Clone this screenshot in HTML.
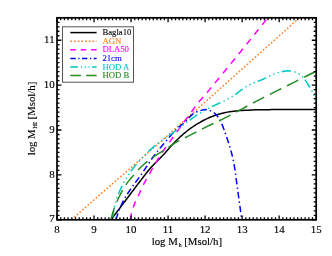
<!DOCTYPE html>
<html><head><meta charset="utf-8"><title>plot</title>
<style>
html,body{margin:0;padding:0;background:#fff;}
body{width:332px;height:256px;overflow:hidden;position:relative;font-family:"Liberation Serif",serif;}
</style></head><body>
<svg width="332" height="256" viewBox="0 0 332 256" style="position:absolute;left:0;top:0;will-change:transform">
<defs><clipPath id="c"><rect x="57.0" y="17.8" width="259.2" height="202.0"/></clipPath></defs>
<g clip-path="url(#c)" fill="none" stroke-linejoin="round">
<path d="M111.00,219.70 L112.28,218.02 L113.55,216.34 L114.82,214.67 L116.10,212.99 L117.37,211.31 L118.64,209.63 L119.92,207.95 L121.19,206.27 L122.46,204.59 L123.73,202.91 L125.00,201.22 L126.27,199.54 L127.54,197.86 L128.81,196.18 L130.08,194.50 L131.34,192.81 L132.60,191.12 L133.86,189.43 L135.12,187.74 L136.39,186.06 L137.65,184.37 L138.93,182.70 L140.21,181.03 L141.50,179.35 L142.78,177.68 L144.07,176.01 L145.37,174.35 L146.68,172.70 L148.01,171.06 L149.36,169.45 L150.74,167.86 L152.15,166.30 L153.58,164.76 L155.04,163.24 L156.51,161.73 L158.00,160.23 L159.48,158.73 L160.96,157.23 L162.43,155.72 L163.89,154.19 L165.32,152.65 L166.73,151.08 L168.11,149.48 L169.49,147.88 L170.87,146.28 L172.26,144.70 L173.69,143.15 L175.15,141.65 L176.65,140.17 L178.17,138.71 L179.72,137.27 L181.29,135.86 L182.88,134.46 L184.49,133.10 L186.13,131.77 L187.78,130.49 L189.46,129.22 L191.16,127.98 L192.90,126.76 L194.65,125.58 L196.43,124.43 L198.23,123.33 L200.04,122.28 L201.88,121.26 L203.74,120.26 L205.63,119.30 L207.54,118.38 L209.46,117.52 L211.41,116.71 L213.37,115.98 L215.35,115.28 L217.36,114.60 L219.39,113.98 L221.42,113.41 L223.47,112.91 L225.53,112.50 L227.59,112.13 L229.67,111.79 L231.76,111.47 L233.86,111.19 L235.96,110.95 L238.06,110.74 L240.16,110.59 L242.25,110.46 L244.36,110.34 L246.46,110.23 L248.56,110.13 L250.67,110.03 L252.78,109.95 L254.89,109.87 L257.00,109.81 L259.10,109.76 L261.21,109.72 L263.32,109.69 L265.43,109.67 L267.53,109.65 L269.64,109.63 L271.74,109.61 L273.85,109.59 L275.96,109.57 L278.06,109.55 L280.17,109.54 L282.28,109.52 L284.39,109.51 L286.49,109.49 L288.60,109.48 L290.71,109.47 L292.81,109.46 L294.92,109.45 L297.03,109.44 L299.14,109.43 L301.24,109.42 L303.35,109.42 L305.46,109.41 L307.57,109.41 L309.68,109.40 L311.78,109.40 L313.89,109.40 L316.00,109.40" stroke="#000000" stroke-width="1.5"/>
<path d="M71.50,219.80 L73.42,218.09 L75.33,216.39 L77.25,214.68 L79.17,212.98 L81.09,211.28 L83.01,209.57 L84.93,207.87 L86.85,206.17 L88.77,204.47 L90.69,202.77 L92.62,201.08 L94.54,199.38 L96.47,197.69 L98.40,195.99 L100.33,194.30 L102.26,192.61 L104.19,190.93 L106.12,189.24 L108.06,187.55 L110.00,185.87 L111.93,184.19 L113.87,182.50 L115.81,180.82 L117.74,179.14 L119.68,177.46 L121.62,175.78 L123.56,174.10 L125.50,172.42 L127.44,170.74 L129.38,169.06 L131.31,167.37 L133.25,165.69 L135.19,164.01 L137.12,162.33 L139.06,160.64 L140.99,158.95 L142.92,157.27 L144.86,155.58 L146.79,153.89 L148.71,152.19 L150.64,150.50 L152.57,148.80 L154.49,147.11 L156.41,145.41 L158.34,143.71 L160.26,142.01 L162.18,140.31 L164.10,138.61 L166.02,136.91 L167.94,135.21 L169.86,133.50 L171.78,131.80 L173.69,130.09 L175.61,128.39 L177.53,126.68 L179.44,124.98 L181.36,123.27 L183.28,121.56 L185.19,119.85 L187.10,118.15 L189.02,116.44 L190.93,114.73 L192.85,113.02 L194.76,111.31 L196.67,109.60 L198.59,107.89 L200.50,106.18 L202.41,104.47 L204.33,102.76 L206.24,101.05 L208.15,99.34 L210.07,97.63 L211.98,95.92 L213.89,94.22 L215.81,92.51 L217.72,90.80 L219.63,89.09 L221.55,87.38 L223.46,85.67 L225.38,83.96 L227.29,82.26 L229.21,80.55 L231.12,78.84 L233.04,77.13 L234.95,75.42 L236.87,73.72 L238.78,72.01 L240.69,70.30 L242.61,68.59 L244.52,66.88 L246.44,65.17 L248.35,63.47 L250.26,61.76 L252.18,60.05 L254.09,58.34 L256.01,56.63 L257.92,54.92 L259.83,53.21 L261.75,51.50 L263.66,49.79 L265.57,48.08 L267.49,46.37 L269.40,44.66 L271.31,42.96 L273.23,41.25 L275.14,39.54 L277.05,37.83 L278.96,36.12 L280.88,34.41 L282.79,32.70 L284.70,30.99 L286.61,29.27 L288.53,27.56 L290.44,25.85 L292.35,24.14 L294.26,22.43 L296.18,20.72 L298.09,19.01 L300.00,17.30" stroke="#ff8428" stroke-width="1.5" stroke-dasharray="1.7 1.9"/>
<path d="M130.30,219.70 L130.63,217.62 L131.03,215.56 L131.50,213.52 L132.02,211.51 L132.60,209.52 L133.23,207.55 L133.88,205.60 L134.57,203.67 L135.29,201.76 L136.17,199.90 L137.16,198.06 L138.14,196.23 L139.04,194.36 L139.86,192.46 L140.66,190.54 L141.47,188.64 L142.35,186.77 L143.28,184.92 L144.24,183.09 L145.22,181.27 L146.23,179.46 L147.25,177.65 L148.28,175.85 L149.32,174.06 L150.35,172.26 L151.38,170.46 L152.41,168.67 L153.44,166.87 L154.48,165.08 L155.53,163.29 L156.59,161.51 L157.65,159.73 L158.73,157.96 L159.82,156.20 L160.92,154.45 L162.04,152.71 L163.18,150.98 L164.34,149.27 L165.53,147.58 L166.73,145.90 L167.95,144.22 L169.18,142.55 L170.41,140.88 L171.63,139.20 L172.84,137.53 L174.05,135.85 L175.27,134.17 L176.48,132.49 L177.70,130.82 L178.92,129.15 L180.14,127.47 L181.36,125.80 L182.58,124.13 L183.80,122.45 L185.02,120.78 L186.24,119.11 L187.46,117.44 L188.68,115.76 L189.91,114.09 L191.13,112.42 L192.34,110.74 L193.54,109.05 L194.74,107.35 L195.94,105.67 L197.18,104.01 L198.45,102.38 L199.77,100.79 L201.16,99.26 L202.56,97.73 L203.94,96.18 L205.29,94.61 L206.63,93.03 L207.96,91.45 L209.29,89.86 L210.61,88.26 L211.92,86.66 L213.24,85.06 L214.55,83.46 L215.86,81.86 L217.18,80.26 L218.50,78.66 L219.81,77.06 L221.13,75.46 L222.44,73.86 L223.75,72.26 L225.07,70.66 L226.38,69.06 L227.69,67.46 L229.00,65.86 L230.31,64.25 L231.62,62.65 L232.93,61.05 L234.24,59.44 L235.55,57.84 L236.86,56.23 L238.17,54.63 L239.47,53.02 L240.78,51.41 L242.08,49.80 L243.39,48.20 L244.69,46.59 L245.99,44.98 L247.29,43.37 L248.60,41.76 L249.90,40.14 L251.20,38.53 L252.49,36.92 L253.79,35.30 L255.09,33.69 L256.38,32.07 L257.68,30.46 L258.97,28.84 L260.26,27.22 L261.56,25.61 L262.85,23.99 L264.14,22.37 L265.43,20.74 L266.71,19.12 L268.00,17.50" stroke="#ff00ff" stroke-width="1.5" stroke-dasharray="6.60 5.88"/>
<path d="M116.00,219.70 L116.62,217.52 L117.30,215.36 L118.03,213.23 L118.80,211.12 L119.62,209.04 L120.48,206.97 L121.38,204.94 L122.30,202.92 L123.28,200.93 L124.34,198.97 L125.48,197.03 L126.66,195.12 L127.88,193.22 L129.12,191.34 L130.35,189.47 L131.61,187.63 L132.92,185.81 L134.25,184.01 L135.59,182.21 L136.94,180.42 L138.28,178.62 L139.60,176.81 L140.89,174.98 L142.17,173.14 L143.43,171.28 L144.68,169.42 L145.92,167.56 L147.17,165.69 L148.42,163.83 L149.67,161.97 L150.94,160.13 L152.23,158.30 L153.53,156.48 L154.86,154.68 L156.22,152.91 L157.60,151.15 L159.01,149.41 L160.43,147.67 L161.86,145.95 L163.31,144.23 L164.76,142.52 L166.21,140.82 L167.66,139.11 L169.10,137.39 L170.55,135.67 L172.01,133.97 L173.49,132.30 L175.03,130.67 L176.63,129.12 L178.30,127.63 L180.01,126.17 L181.74,124.73 L183.45,123.28 L185.14,121.79 L186.76,120.26 L188.27,118.62 L189.71,116.89 L191.33,115.34 L193.07,113.85 L194.92,112.60 L196.90,111.70 L199.05,110.99 L201.24,110.40 L203.43,109.81 L205.62,109.50 L207.81,109.84 L209.98,110.62 L212.02,111.56 L213.92,112.72 L215.68,114.19 L217.18,115.80 L218.49,117.64 L219.67,119.56 L220.72,121.53 L221.67,123.57 L222.53,125.63 L223.32,127.73 L224.07,129.84 L224.81,131.96 L225.55,134.07 L226.30,136.19 L227.04,138.30 L227.77,140.42 L228.48,142.55 L229.16,144.68 L229.80,146.82 L230.42,148.98 L231.03,151.13 L231.62,153.30 L232.18,155.47 L232.72,157.65 L233.21,159.83 L233.66,162.02 L234.06,164.22 L234.43,166.42 L234.78,168.63 L235.10,170.85 L235.41,173.07 L235.71,175.29 L236.00,177.52 L236.29,179.74 L236.59,181.97 L236.89,184.19 L237.20,186.40 L237.51,188.62 L237.81,190.84 L238.12,193.06 L238.43,195.28 L238.73,197.50 L239.04,199.72 L239.34,201.94 L239.64,204.16 L239.94,206.38 L240.24,208.60 L240.53,210.82 L240.83,213.04 L241.12,215.26 L241.41,217.48 L241.70,219.70" stroke="#0000ff" stroke-width="1.5" stroke-dasharray="6.48 3.12 1.44 3.00"/>
<path d="M112.30,219.70 L112.62,217.33 L112.99,214.97 L113.39,212.61 L113.83,210.27 L114.30,207.91 L114.81,205.57 L115.37,203.24 L115.98,200.94 L116.66,198.67 L117.43,196.42 L118.29,194.18 L119.22,191.97 L120.21,189.77 L121.23,187.60 L122.27,185.46 L123.35,183.34 L124.49,181.24 L125.70,179.17 L126.95,177.12 L128.25,175.11 L129.57,173.12 L130.94,171.17 L132.36,169.25 L133.84,167.37 L135.36,165.52 L136.91,163.69 L138.47,161.89 L140.06,160.11 L141.68,158.35 L143.32,156.60 L144.99,154.89 L146.68,153.19 L148.39,151.53 L150.12,149.89 L151.89,148.28 L153.69,146.70 L155.53,145.17 L157.40,143.69 L159.31,142.27 L161.27,140.89 L163.23,139.53 L165.19,138.16 L167.15,136.79 L169.12,135.43 L171.08,134.08 L173.04,132.70 L174.98,131.31 L176.90,129.89 L178.80,128.44 L180.69,126.98 L182.58,125.52 L184.48,124.06 L186.39,122.63 L188.31,121.21 L190.24,119.80 L192.18,118.39 L194.13,117.01 L196.10,115.67 L198.10,114.36 L200.12,113.09 L202.17,111.85 L204.23,110.64 L206.32,109.47 L208.41,108.33 L210.54,107.25 L212.69,106.21 L214.85,105.19 L217.03,104.20 L219.20,103.20 L221.37,102.19 L223.52,101.15 L225.65,100.06 L227.77,98.95 L229.87,97.81 L231.94,96.63 L233.98,95.39 L235.95,94.04 L237.89,92.61 L239.81,91.15 L241.73,89.69 L243.66,88.27 L245.63,86.93 L247.65,85.71 L249.74,84.63 L251.90,83.65 L254.11,82.75 L256.35,81.88 L258.60,81.02 L260.83,80.14 L263.03,79.20 L265.19,78.17 L267.34,77.10 L269.49,76.06 L271.67,75.09 L273.89,74.21 L276.13,73.35 L278.41,72.61 L280.71,72.04 L283.06,71.52 L285.44,71.08 L287.81,70.83 L290.17,70.88 L292.56,71.33 L294.90,72.03 L297.10,72.84 L299.16,73.97 L301.10,75.49 L302.84,77.14 L304.35,78.92 L305.73,80.89 L307.02,82.95 L308.31,84.98 L309.61,86.99 L310.89,89.03 L312.07,91.11 L313.11,93.24 L314.01,95.44 L314.81,97.69 L315.50,100.00" stroke="#00c8c8" stroke-width="1.5" stroke-dasharray="9.24 3.48 1.32 3.24 1.32 3.24 1.32 3.00"/>
<path d="M111.00,219.70 L111.49,217.55 L112.02,215.42 L112.61,213.30 L113.25,211.21 L113.95,209.14 L114.70,207.07 L115.49,205.01 L116.33,202.97 L117.21,200.94 L118.11,198.94 L119.05,196.95 L120.01,194.99 L121.00,193.04 L122.05,191.10 L123.15,189.19 L124.29,187.30 L125.48,185.44 L126.71,183.62 L127.98,181.85 L129.34,180.14 L130.77,178.48 L132.24,176.83 L133.72,175.20 L135.18,173.55 L136.59,171.86 L138.01,170.18 L139.47,168.55 L141.01,166.99 L142.60,165.48 L144.24,164.00 L145.91,162.56 L147.61,161.16 L149.34,159.80 L151.09,158.50 L152.88,157.25 L154.71,156.04 L156.56,154.86 L158.43,153.70 L160.31,152.55 L162.19,151.39 L164.05,150.22 L165.89,149.01 L167.71,147.78 L169.52,146.54 L171.35,145.30 L173.19,144.11 L175.05,142.97 L176.96,141.89 L178.89,140.85 L180.85,139.85 L182.81,138.86 L184.78,137.88 L186.75,136.89 L188.70,135.88 L190.65,134.87 L192.60,133.87 L194.55,132.86 L196.51,131.86 L198.46,130.85 L200.42,129.86 L202.38,128.86 L204.34,127.88 L206.30,126.90 L208.27,125.92 L210.25,124.97 L212.23,124.02 L214.22,123.08 L216.21,122.15 L218.19,121.21 L220.18,120.26 L222.15,119.31 L224.12,118.34 L226.08,117.35 L228.04,116.35 L229.99,115.34 L231.93,114.32 L233.87,113.29 L235.81,112.25 L237.74,111.21 L239.67,110.16 L241.60,109.11 L243.53,108.06 L245.46,107.01 L247.39,105.96 L249.33,104.92 L251.26,103.88 L253.20,102.85 L255.14,101.83 L257.09,100.81 L259.04,99.81 L261.00,98.81 L262.96,97.82 L264.93,96.84 L266.89,95.86 L268.85,94.87 L270.82,93.89 L272.78,92.90 L274.74,91.92 L276.71,90.94 L278.67,89.95 L280.63,88.97 L282.60,87.99 L284.56,87.00 L286.53,86.02 L288.49,85.04 L290.46,84.06 L292.42,83.08 L294.39,82.10 L296.35,81.12 L298.32,80.13 L300.28,79.15 L302.25,78.17 L304.21,77.19 L306.18,76.21 L308.14,75.23 L310.11,74.25 L312.07,73.26 L314.04,72.28 L316.00,71.30" stroke="#228b22" stroke-width="1.5" stroke-dasharray="12.72 6.36"/>
</g>
<rect x="57.0" y="17.8" width="259.2" height="202.0" fill="none" stroke="#000" stroke-width="1.7"/>
<path d="M57.00,219.8v-4.4M57.00,17.8v4.4M60.70,219.8v-2.5M60.70,17.8v2.5M64.41,219.8v-2.5M64.41,17.8v2.5M68.11,219.8v-2.5M68.11,17.8v2.5M71.81,219.8v-2.5M71.81,17.8v2.5M75.51,219.8v-2.5M75.51,17.8v2.5M79.22,219.8v-2.5M79.22,17.8v2.5M82.92,219.8v-2.5M82.92,17.8v2.5M86.62,219.8v-2.5M86.62,17.8v2.5M90.33,219.8v-2.5M90.33,17.8v2.5M94.03,219.8v-4.4M94.03,17.8v4.4M97.73,219.8v-2.5M97.73,17.8v2.5M101.43,219.8v-2.5M101.43,17.8v2.5M105.14,219.8v-2.5M105.14,17.8v2.5M108.84,219.8v-2.5M108.84,17.8v2.5M112.54,219.8v-2.5M112.54,17.8v2.5M116.25,219.8v-2.5M116.25,17.8v2.5M119.95,219.8v-2.5M119.95,17.8v2.5M123.65,219.8v-2.5M123.65,17.8v2.5M127.35,219.8v-2.5M127.35,17.8v2.5M131.06,219.8v-4.4M131.06,17.8v4.4M134.76,219.8v-2.5M134.76,17.8v2.5M138.46,219.8v-2.5M138.46,17.8v2.5M142.17,219.8v-2.5M142.17,17.8v2.5M145.87,219.8v-2.5M145.87,17.8v2.5M149.57,219.8v-2.5M149.57,17.8v2.5M153.27,219.8v-2.5M153.27,17.8v2.5M156.98,219.8v-2.5M156.98,17.8v2.5M160.68,219.8v-2.5M160.68,17.8v2.5M164.38,219.8v-2.5M164.38,17.8v2.5M168.09,219.8v-4.4M168.09,17.8v4.4M171.79,219.8v-2.5M171.79,17.8v2.5M175.49,219.8v-2.5M175.49,17.8v2.5M179.19,219.8v-2.5M179.19,17.8v2.5M182.90,219.8v-2.5M182.90,17.8v2.5M186.60,219.8v-2.5M186.60,17.8v2.5M190.30,219.8v-2.5M190.30,17.8v2.5M194.01,219.8v-2.5M194.01,17.8v2.5M197.71,219.8v-2.5M197.71,17.8v2.5M201.41,219.8v-2.5M201.41,17.8v2.5M205.11,219.8v-4.4M205.11,17.8v4.4M208.82,219.8v-2.5M208.82,17.8v2.5M212.52,219.8v-2.5M212.52,17.8v2.5M216.22,219.8v-2.5M216.22,17.8v2.5M219.93,219.8v-2.5M219.93,17.8v2.5M223.63,219.8v-2.5M223.63,17.8v2.5M227.33,219.8v-2.5M227.33,17.8v2.5M231.03,219.8v-2.5M231.03,17.8v2.5M234.74,219.8v-2.5M234.74,17.8v2.5M238.44,219.8v-2.5M238.44,17.8v2.5M242.14,219.8v-4.4M242.14,17.8v4.4M245.85,219.8v-2.5M245.85,17.8v2.5M249.55,219.8v-2.5M249.55,17.8v2.5M253.25,219.8v-2.5M253.25,17.8v2.5M256.95,219.8v-2.5M256.95,17.8v2.5M260.66,219.8v-2.5M260.66,17.8v2.5M264.36,219.8v-2.5M264.36,17.8v2.5M268.06,219.8v-2.5M268.06,17.8v2.5M271.77,219.8v-2.5M271.77,17.8v2.5M275.47,219.8v-2.5M275.47,17.8v2.5M279.17,219.8v-4.4M279.17,17.8v4.4M282.87,219.8v-2.5M282.87,17.8v2.5M286.58,219.8v-2.5M286.58,17.8v2.5M290.28,219.8v-2.5M290.28,17.8v2.5M293.98,219.8v-2.5M293.98,17.8v2.5M297.69,219.8v-2.5M297.69,17.8v2.5M301.39,219.8v-2.5M301.39,17.8v2.5M305.09,219.8v-2.5M305.09,17.8v2.5M308.79,219.8v-2.5M308.79,17.8v2.5M312.50,219.8v-2.5M312.50,17.8v2.5M316.20,219.8v-4.4M316.20,17.8v4.4M57.0,219.80h4.4M316.2,219.80h-4.4M57.0,215.31h2.5M316.2,215.31h-2.5M57.0,210.82h2.5M316.2,210.82h-2.5M57.0,206.33h2.5M316.2,206.33h-2.5M57.0,201.84h2.5M316.2,201.84h-2.5M57.0,197.36h2.5M316.2,197.36h-2.5M57.0,192.87h2.5M316.2,192.87h-2.5M57.0,188.38h2.5M316.2,188.38h-2.5M57.0,183.89h2.5M316.2,183.89h-2.5M57.0,179.40h2.5M316.2,179.40h-2.5M57.0,174.91h4.4M316.2,174.91h-4.4M57.0,170.42h2.5M316.2,170.42h-2.5M57.0,165.93h2.5M316.2,165.93h-2.5M57.0,161.44h2.5M316.2,161.44h-2.5M57.0,156.96h2.5M316.2,156.96h-2.5M57.0,152.47h2.5M316.2,152.47h-2.5M57.0,147.98h2.5M316.2,147.98h-2.5M57.0,143.49h2.5M316.2,143.49h-2.5M57.0,139.00h2.5M316.2,139.00h-2.5M57.0,134.51h2.5M316.2,134.51h-2.5M57.0,130.02h4.4M316.2,130.02h-4.4M57.0,125.53h2.5M316.2,125.53h-2.5M57.0,121.04h2.5M316.2,121.04h-2.5M57.0,116.56h2.5M316.2,116.56h-2.5M57.0,112.07h2.5M316.2,112.07h-2.5M57.0,107.58h2.5M316.2,107.58h-2.5M57.0,103.09h2.5M316.2,103.09h-2.5M57.0,98.60h2.5M316.2,98.60h-2.5M57.0,94.11h2.5M316.2,94.11h-2.5M57.0,89.62h2.5M316.2,89.62h-2.5M57.0,85.13h4.4M316.2,85.13h-4.4M57.0,80.64h2.5M316.2,80.64h-2.5M57.0,76.16h2.5M316.2,76.16h-2.5M57.0,71.67h2.5M316.2,71.67h-2.5M57.0,67.18h2.5M316.2,67.18h-2.5M57.0,62.69h2.5M316.2,62.69h-2.5M57.0,58.20h2.5M316.2,58.20h-2.5M57.0,53.71h2.5M316.2,53.71h-2.5M57.0,49.22h2.5M316.2,49.22h-2.5M57.0,44.73h2.5M316.2,44.73h-2.5M57.0,40.24h4.4M316.2,40.24h-4.4M57.0,35.76h2.5M316.2,35.76h-2.5M57.0,31.27h2.5M316.2,31.27h-2.5M57.0,26.78h2.5M316.2,26.78h-2.5M57.0,22.29h2.5M316.2,22.29h-2.5M57.0,17.80h2.5M316.2,17.80h-2.5" stroke="#000" stroke-width="1.3" fill="none"/>
<g font-family="Liberation Serif, serif" font-size="10.9" fill="#000" stroke="#000" stroke-width="0.15">
<text x="57.00" y="233.2" text-anchor="middle">8</text>
<text x="94.03" y="233.2" text-anchor="middle">9</text>
<text x="131.06" y="233.2" text-anchor="middle">10</text>
<text x="168.09" y="233.2" text-anchor="middle">11</text>
<text x="205.11" y="233.2" text-anchor="middle">12</text>
<text x="242.14" y="233.2" text-anchor="middle">13</text>
<text x="279.17" y="233.2" text-anchor="middle">14</text>
<text x="316.20" y="233.2" text-anchor="middle">15</text>
<text x="54.6" y="221.90" text-anchor="end">7</text>
<text x="54.6" y="177.71" text-anchor="end">8</text>
<text x="54.6" y="132.82" text-anchor="end">9</text>
<text x="54.6" y="87.93" text-anchor="end">10</text>
<text x="54.6" y="43.04" text-anchor="end">11</text>
<text x="186.9" y="244.6" text-anchor="middle" font-size="10.8" textLength="70.5" lengthAdjust="spacing">log M<tspan font-size="5.6" dy="2.3" dx="0.8">h</tspan><tspan dy="-2.3"> [Msol/h]</tspan></text>
<text transform="translate(34.8,118.5) rotate(-90)" text-anchor="middle" font-size="10.8" textLength="73.7" lengthAdjust="spacing">log M<tspan font-size="6.4" dy="2.3" dx="0.5">HI</tspan><tspan dy="-2.3"> [Msol/h]</tspan></text>
</g>
<rect x="62.5" y="26.8" width="71" height="55.4" fill="#fff" stroke="#555" stroke-width="1"/>
<g font-family="Liberation Serif, serif" font-size="8.7">
<path d="M70.3,32.6H96.6" stroke="#000000" stroke-width="1.5" fill="none"/>
<text x="102.4" y="35.10" fill="#000000" stroke="#000000" stroke-width="0.12">Bagla10</text>
<path d="M70.3,41.2H96.6" stroke="#ff8428" stroke-width="1.5" fill="none" stroke-dasharray="1.7 2.0"/>
<text x="102.4" y="43.70" fill="#ff8428" stroke="#ff8428" stroke-width="0.12">AGN</text>
<path d="M70.3,49.8H96.6" stroke="#ff00ff" stroke-width="1.5" fill="none" stroke-dasharray="5.5 4.9"/>
<text x="102.4" y="52.30" fill="#ff00ff" stroke="#ff00ff" stroke-width="0.12">DLA50</text>
<path d="M70.3,58.4H96.6" stroke="#0000ff" stroke-width="1.5" fill="none" stroke-dasharray="5.4 2.6 1.2 2.5"/>
<text x="102.4" y="60.90" fill="#0000ff" stroke="#0000ff" stroke-width="0.12">21cm</text>
<path d="M70.3,67.0H96.6" stroke="#00c8c8" stroke-width="1.5" fill="none" stroke-dasharray="7.7 2.9 1.1 2.7 1.1 2.7 1.1 2.5"/>
<text x="102.4" y="69.50" fill="#00c8c8" stroke="#00c8c8" stroke-width="0.12">HOD A</text>
<path d="M70.3,75.6H96.6" stroke="#228b22" stroke-width="1.5" fill="none" stroke-dasharray="10.6 5.3"/>
<text x="102.4" y="78.10" fill="#228b22" stroke="#228b22" stroke-width="0.12">HOD B</text>
</g>
</svg>
</body></html>
